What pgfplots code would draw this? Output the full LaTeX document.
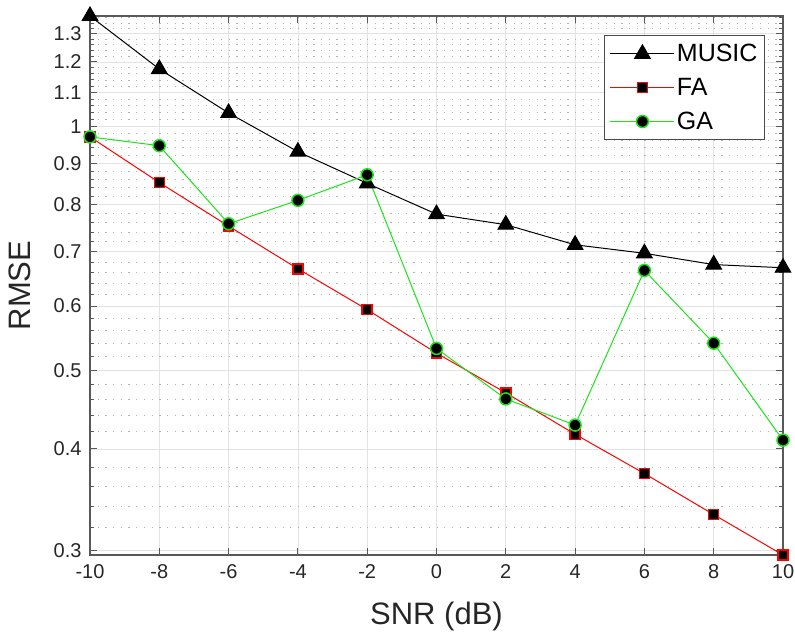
\documentclass[border=0pt]{standalone}
\usepackage{fontspec}
\setmainfont{Liberation Sans}
\usepackage{pgfplots}
\pgfplotsset{compat=1.18}
\definecolor{gagreen}{rgb}{0.1,0.9,0.1}
\begin{document}
\begin{tikzpicture}
\begin{axis}[
  name=ax,
  scale only axis,
  width=693pt, height=539pt,
  ymode=log,
  xmin=-10, xmax=10,
  ymin=0.296, ymax=1.367,
  xtick={-10,-8,...,10},
  ytick={0.3,0.4,0.5,0.6,0.7,0.8,0.9,1,1.1,1.2,1.3},
  yticklabels={0.3,0.4,0.5,0.6,0.7,0.8,0.9,1,1.1,1.2,1.3},
  minor ytick={0.32,0.34,0.36,0.38,0.42,0.44,0.46,0.48,0.52,0.54,0.56,0.58,0.62,0.64,0.66,0.68,0.72,0.74,0.76,0.78,0.82,0.84,0.86,0.88,0.92,0.94,0.96,0.98,1.02,1.04,1.06,1.08,1.12,1.14,1.16,1.18,1.22,1.24,1.26,1.28,1.32,1.34,1.36},
  /pgf/number format/assume math mode=true,
  tick label style={font=\fontsize{20}{23}\selectfont, text=black!85},
  xticklabel style={yshift=-6pt},
  yticklabel style={xshift=-5pt},
  label style={font=\fontsize{31}{34}\selectfont, text=black!85},
  xlabel={SNR (dB)},
  ylabel={RMSE},
  xlabel style={yshift=-16pt},
  ylabel style={yshift=16pt},
  grid=both,
  major grid style={gray!22, line width=0.7pt},
  minor grid style={gray!60, dash pattern=on 1.2pt off 6.5pt, line width=0.9pt},
  axis line style={black!65, line width=1.1pt},
  tick style={black!65, line width=1pt},
  major tick length=7pt,
  minor tick length=4pt,
  tick align=inside,
  clip=false,
  legend style={at={(0.974,0.965)}, anchor=north east,
    font=\fontsize{25}{28}\selectfont, draw=black!70, line width=1pt,
    inner xsep=5pt, inner ysep=7pt, row sep=11pt,
    cells={anchor=west}},
  legend image code/.code={
    \draw[mark repeat=2,mark phase=2] plot coordinates {(0pt,0pt)(32pt,0pt)(64pt,0pt)};
  },
]
\addplot[black, line width=1pt, mark=triangle*, mark size=9pt, mark options={fill=black, draw=black}]
coordinates {(-10,1.367)(-8,1.176)(-6,1.038)(-4,0.930)(-2,0.850)(0,0.779)(2,0.756)(4,0.714)(6,0.697)(8,0.675)(10,0.669)};
\addlegendentry{MUSIC}
\addplot[red, line width=1pt, mark=square*, mark size=5pt, mark options={fill=black, draw=red, line width=1.5pt}]
coordinates {(-10,0.970)(-8,0.852)(-6,0.753)(-4,0.667)(-2,0.594)(0,0.525)(2,0.469)(4,0.417)(6,0.373)(8,0.332)(10,0.296)};
\addlegendentry{FA}
\addplot[gagreen, line width=1pt, mark=*, mark size=6pt, mark options={fill=black, draw=gagreen, line width=1.5pt}]
coordinates {(-10,0.970)(-8,0.946)(-6,0.758)(-4,0.810)(-2,0.871)(0,0.532)(2,0.461)(4,0.428)(6,0.664)(8,0.540)(10,0.410)};
\addlegendentry{GA}
\end{axis}
\pgfresetboundingbox
\path ([xshift=-90pt,yshift=-84pt]ax.south west) rectangle ([xshift=12pt,yshift=16pt]ax.north east);
\end{tikzpicture}
\end{document}
